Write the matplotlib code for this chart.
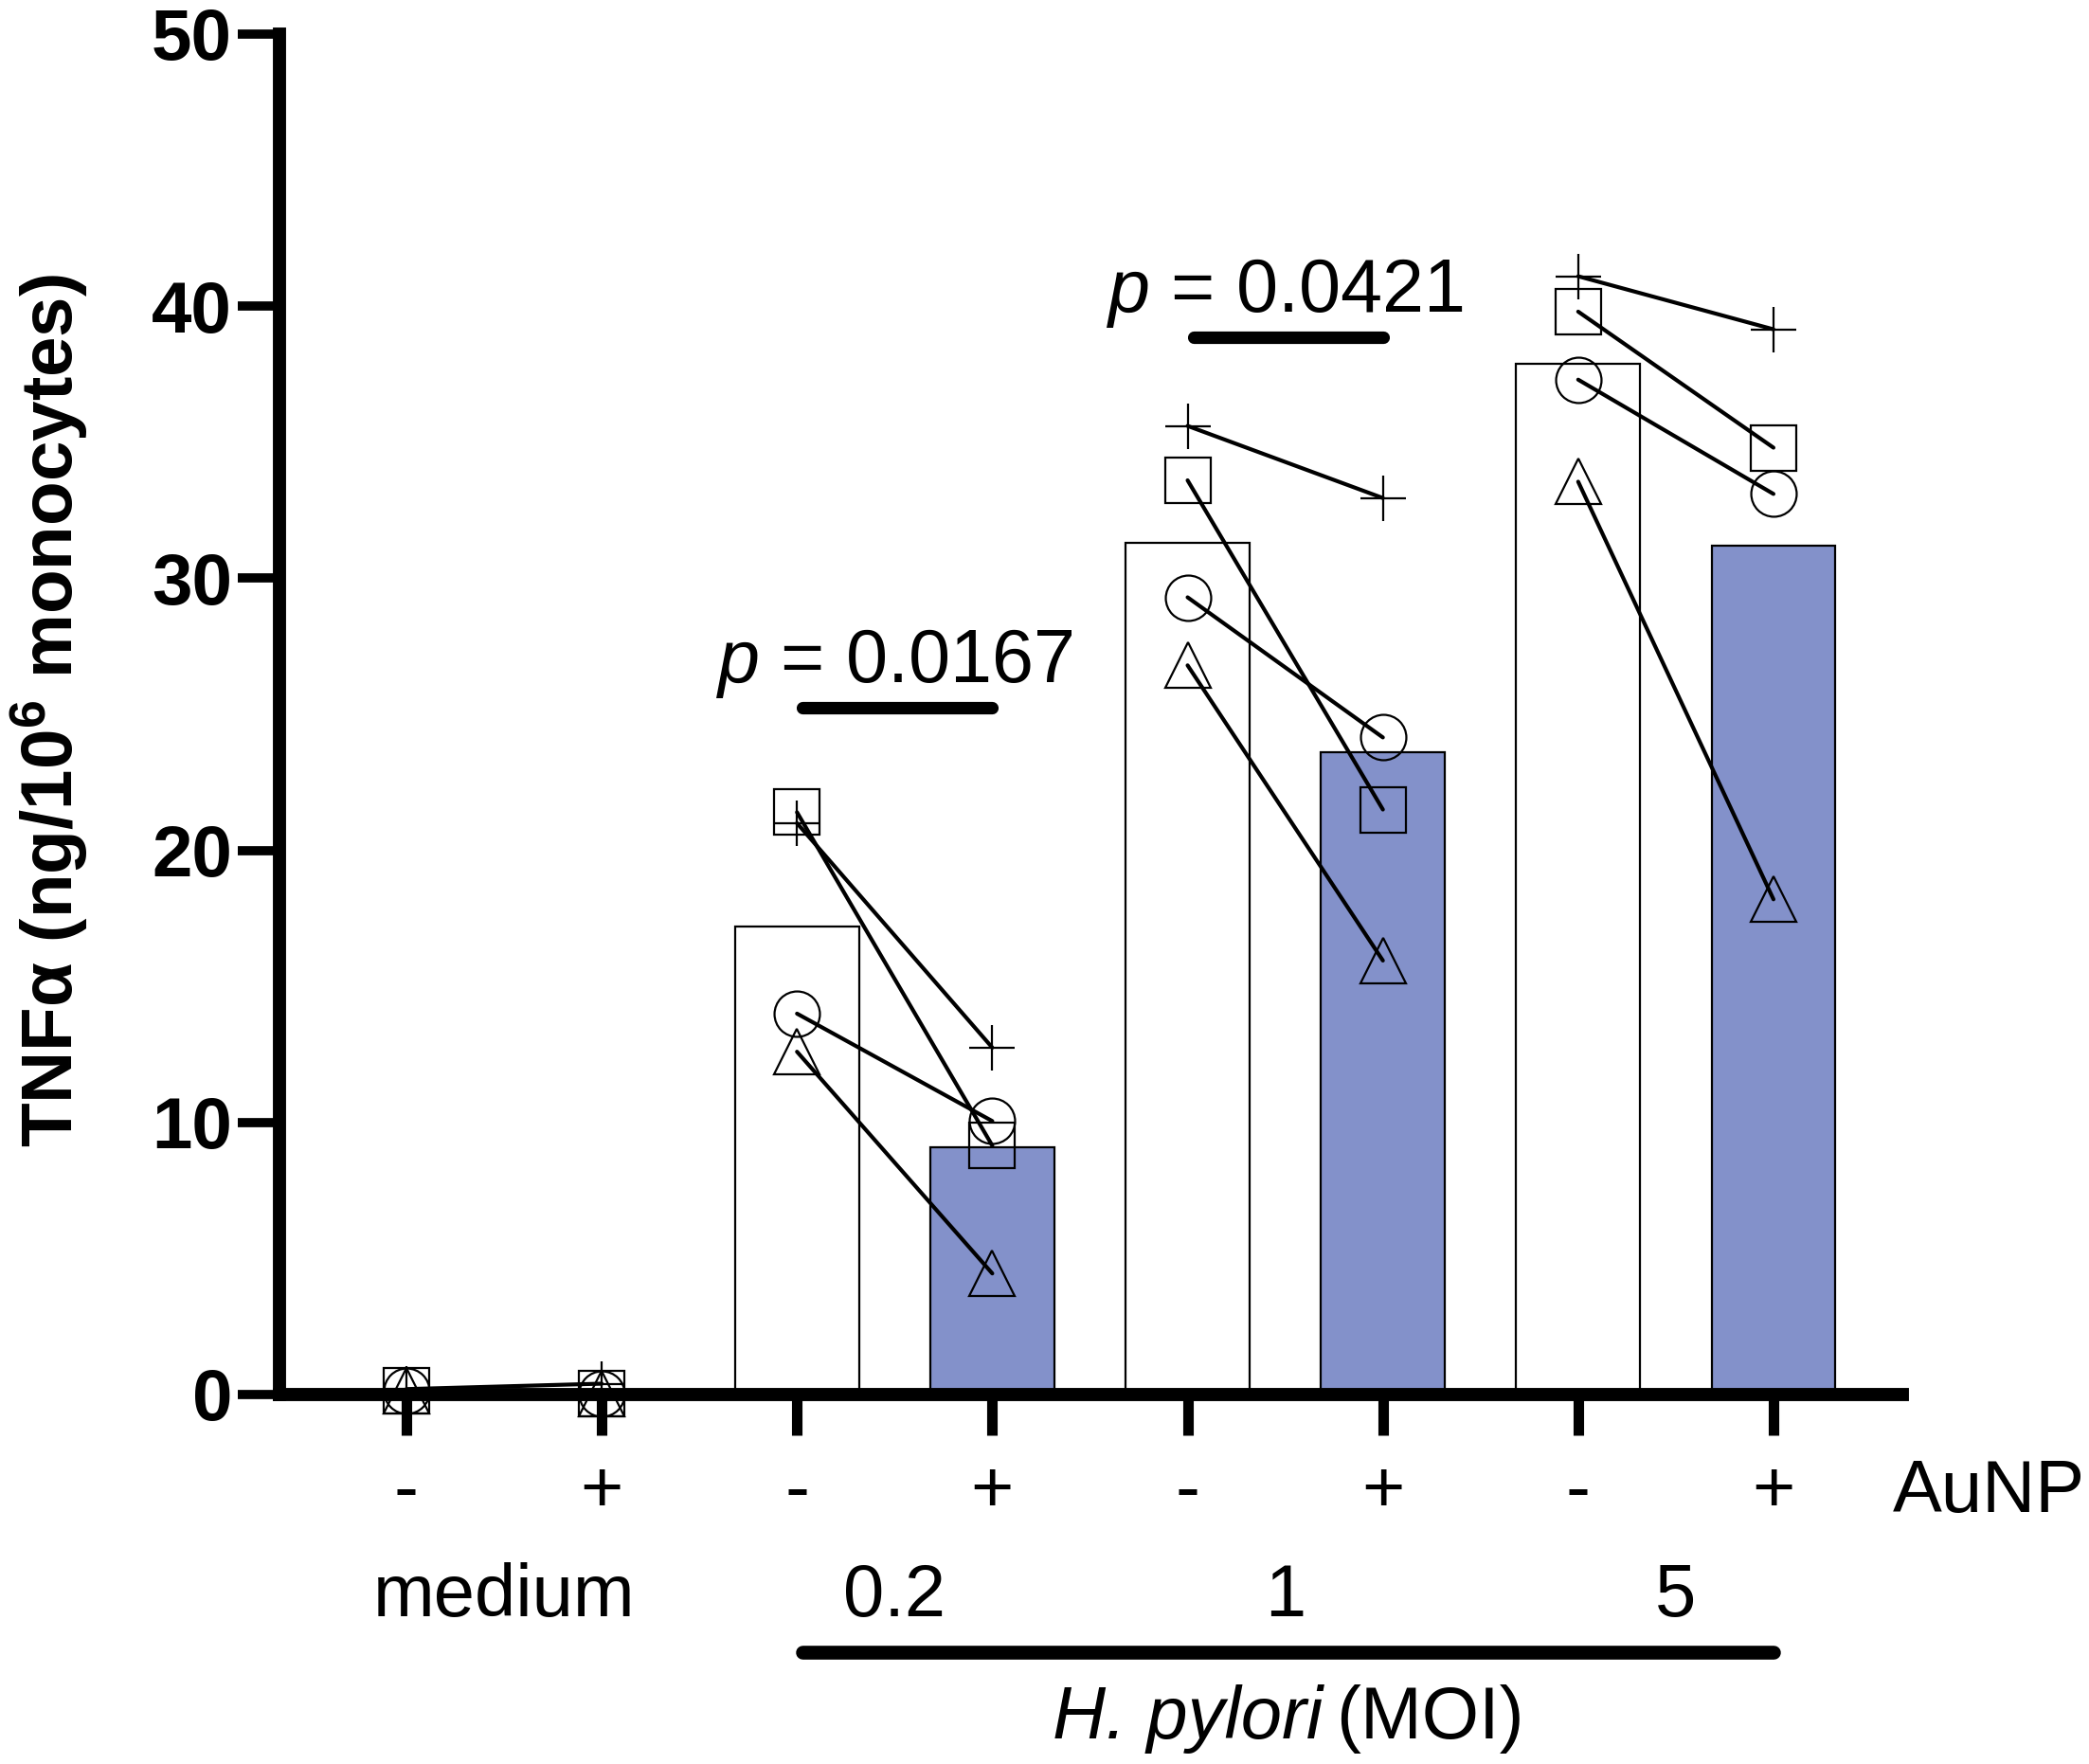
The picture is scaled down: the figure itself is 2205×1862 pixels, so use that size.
import matplotlib
matplotlib.use('Agg')
import matplotlib.pyplot as plt

plt.rcParams['font.family'] = ['Liberation Sans', 'DejaVu Sans']
plt.rcParams['mathtext.fontset'] = 'custom'
plt.rcParams['mathtext.rm'] = 'Liberation Sans'
plt.rcParams['mathtext.it'] = 'Liberation Sans:italic'
plt.rcParams['mathtext.bf'] = 'Liberation Sans:bold'

# ---------------- data ----------------
groups = ['medium', '0.2', '1', '5']
aunp_labels = ['-', '+', '-', '+', '-', '+', '-', '+']
bar_values = [0.15, 0.15, 17.2, 9.1, 31.3, 23.6, 37.9, 31.2]

donor_plus = [0.2, 0.4, 21.0, 12.75, 35.6, 32.95, 41.1, 39.15]
donor_square = [0.15, 0.05, 21.4, 9.15, 33.6, 21.5, 39.8, 34.8]
donor_circle = [0.15, 0.05, 14.0, 10.05, 29.3, 24.15, 37.3, 33.1]
donor_triangle = [0.15, 0.05, 12.6, 4.45, 26.8, 15.95, 33.55, 18.2]

p_values = ['0.0167', '0.0421']
p_pairs = [(2, 3), (4, 5)]
p_bar_y = [25.24, 38.85]

yticks = [0, 10, 20, 30, 40, 50]

BLUE = '#8391CA'

# ---------------- figure ----------------
W, H = 2205, 1862
fig = plt.figure(figsize=(W / 100, H / 100), dpi=100)
ax = fig.add_axes([295 / W, 1 - 1472 / H, (2008 - 295) / W, (1472 - 36) / H])

x = list(range(len(bar_values)))
bar_colors = ['white', BLUE] * 4
ax.bar(x, bar_values, width=0.635, color=bar_colors, edgecolor='black',
       linewidth=1.6, zorder=1)

series = [(donor_plus, '+'), (donor_square, 's'),
          (donor_circle, 'o'), (donor_triangle, '^')]
for vals, m in series:
    for g in range(4):
        xs = [2 * g, 2 * g + 1]
        ys = vals[2 * g:2 * g + 2]
        ax.plot(xs, ys, color='black', lw=3, zorder=4,
                solid_capstyle='round', clip_on=False)
        ax.plot(xs, ys, linestyle='none', marker=m, ms=34.5,
                mfc='none', mec='black', mew=1.6, zorder=3, clip_on=False)

ax.set_xlim(-0.65, 7.66)
ax.set_ylim(0, 50)
ax.set_yticks(yticks)
ax.set_yticklabels([str(t) for t in yticks], fontsize=55, fontweight='bold')
ax.set_xticks(x)
ax.set_xticklabels([])
ax.tick_params(axis='y', length=32, width=7, pad=4)
ax.tick_params(axis='x', length=31, width=8)
for s in ['top', 'right']:
    ax.spines[s].set_visible(False)
for s in ['left', 'bottom']:
    ax.spines[s].set_linewidth(10)

# AuNP labels
for xi, lab in zip(x, aunp_labels):
    ax.text(xi, -4.32, lab, ha='center', va='baseline', fontsize=56,
            clip_on=False)
ax.text(7.61, -4.32, 'AuNP', ha='left', va='baseline', fontsize=56,
        clip_on=False)

# group labels
for g, lab in enumerate(groups):
    ax.text(2 * g + 0.5, -8.15, lab, ha='center', va='baseline',
            fontsize=56, clip_on=False)

ax.plot([2.03, 7.0], [-9.47, -9.47], color='black', lw=10.5,
        solid_capstyle='round', clip_on=False)
ax.text(3.31, -12.64, 'H. pylori', ha='left', va='baseline', fontsize=56,
        fontstyle='italic', clip_on=False)
ax.text(4.76, -12.64, '(MOI)', ha='left', va='baseline', fontsize=56,
        clip_on=False)

# p-values
for (a, b), pv, yb in zip(p_pairs, p_values, p_bar_y):
    ax.plot([a + 0.03, b], [yb, yb], color='black', lw=9.5,
            solid_capstyle='round', zorder=5)
    ax.text((a + b) / 2, yb + 0.94, r'$\mathit{p}$ = ' + pv, ha='center',
            va='baseline', fontsize=57, zorder=5)

# y label
fig.text(52 / W, 1 - 750 / H, r'TNFα (ng/10$^{\mathbf{6}}$ monocytes)',
         rotation=90, ha='center', va='center', fontsize=55,
         fontweight='bold')

fig.savefig('out.png', dpi=100)
